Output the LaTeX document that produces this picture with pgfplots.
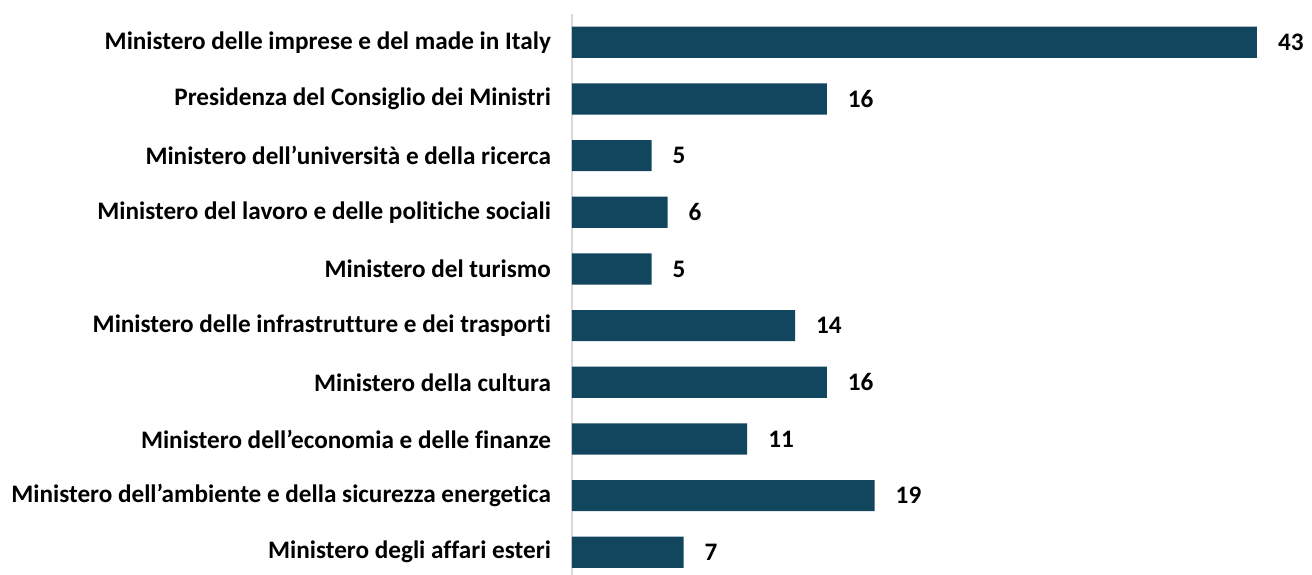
\documentclass[border=0pt]{standalone}
\usepackage{pgfplots}
\pgfplotsset{compat=1.18}
\usepackage{fontspec}
\setmainfont{Carlito}[Ligatures={NoCommon,NoContextual,NoRequired}]
\definecolor{barblue}{HTML}{12465E}
\definecolor{axgray}{HTML}{D9D9D9}

\begin{document}
\begin{tikzpicture}
\begin{axis}[
    name=ax,
    xbar,
    scale only axis,
    width=342.5pt,
    height=283.3pt,
    xmin=0, xmax=43,
    ymin=-0.5, ymax=9.5,
    bar width=0.55,
    axis x line=none,
    axis y line*=left,
    y axis line style={axgray, line width=1pt},
    ytick={0,...,9},
    yticklabels={
        Ministero degli affari esteri,
        Ministero dell’ambiente e della sicurezza energetica,
        Ministero dell’economia e delle finanze,
        Ministero della cultura,
        Ministero delle infrastrut\kern0pt t\kern0pt ure e dei trasporti,
        Ministero del turismo,
        Ministero del lavoro e delle polit\kern0pt iche sociali,
        Ministero dell’università e della ricerca,
        Presidenza del Consiglio dei Ministri~,
        Ministero delle imprese e del made in Italy},
    major tick length=0pt,
    /pgf/number format/assume math mode=true,
    yticklabel style={font=\fontsize{12.6}{14}\selectfont\bfseries, anchor=east, xshift=-7pt},
    nodes near coords,
    nodes near coords style={font=\fontsize{12.6}{14}\selectfont\bfseries, anchor=west, xshift=7pt},
    clip=false,
]
\addplot[fill=barblue, draw=none] coordinates {
    (7,0) (19,1) (11,2) (16,3) (14,4) (5,5) (6,6) (5,7) (16,8) (43,9)
};
\end{axis}
\pgfresetboundingbox
\path[use as bounding box] ([xshift=-286pt, yshift=3.2pt]ax.south west) rectangle ([xshift=27.5pt, yshift=7pt]ax.north east);
\end{tikzpicture}
\end{document}
